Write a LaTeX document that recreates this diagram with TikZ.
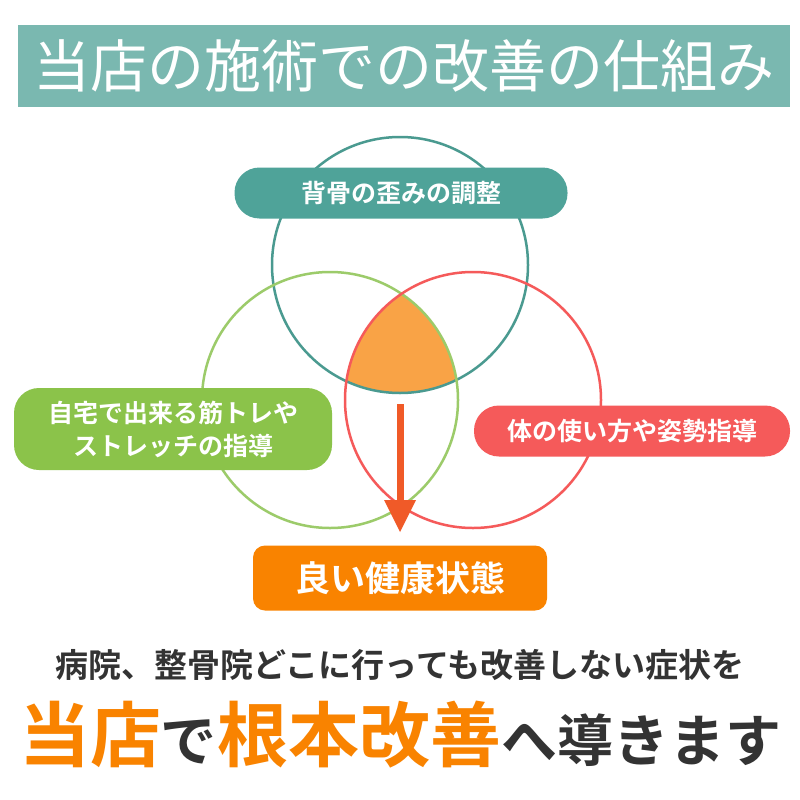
\documentclass[tikz,border=0pt]{standalone}
\usepackage{fontspec}
\setmainfont{Noto Sans CJK JP}[BoldFont={* Bold}]
\definecolor{tealbg}{HTML}{7AB8B0}
\definecolor{tealc}{HTML}{4A9A90}
\definecolor{tealbox}{HTML}{4FA399}
\definecolor{greenc}{HTML}{9CCB6A}
\definecolor{greenbox}{HTML}{8BC34A}
\definecolor{redc}{HTML}{F55A5A}
\definecolor{midfill}{HTML}{F9A346}
\definecolor{arrowc}{HTML}{F05A28}
\definecolor{orangebox}{HTML}{F98300}
\definecolor{darktext}{HTML}{333333}
\tikzset{lbl/.style={rounded corners=25pt,text=white,font=\bfseries\fontsize{25}{33}\selectfont,align=center,inner sep=0pt}}
\begin{document}
\begin{tikzpicture}[x=1pt,y=-1pt]
\useasboundingbox (0,0) rectangle (800,800);
\fill[white] (0,0) rectangle (800,800);
\node[fill=tealbg,minimum width=772pt,minimum height=82pt,inner sep=0pt,text=white,font=\fontsize{57}{62}\selectfont] (title) at (404,66) {当店の施術での改善の仕組み};
\begin{scope}
\clip (400,265) circle (128);
\clip (330,400) circle (128);
\fill[midfill] (473,400) circle (128);
\end{scope}
\draw[tealc,line width=2.5pt] (400,265) circle (128);
\draw[greenc,line width=2.5pt] (330,400) circle (128);
\draw[redc,line width=2.5pt] (473,400) circle (128);
\node[lbl,fill=tealbox,minimum width=333pt,minimum height=51pt] (top) at (401,193) {背骨の歪みの調整};
\node[lbl,fill=greenbox,minimum width=318pt,minimum height=82pt] (left) at (173,429) {自宅で出来る筋トレや\\ストレッチの指導};
\node[lbl,fill=redc,minimum width=316pt,minimum height=51pt] (right) at (632,431) {体の使い方や姿勢指導};
\node[lbl,fill=orangebox,rounded corners=12pt,minimum width=294pt,minimum height=65pt,font=\bfseries\fontsize{35}{40}\selectfont] (good) at (400,578) {良い健康状態};
\coordinate (as) at (400,404);
\draw[arrowc,line width=7pt] (as) -- (400,505);
\fill[arrowc] (384,500) -- (416,500) -- (400,532) -- cycle;
\node[text=darktext,font=\bfseries\fontsize{33}{38}\selectfont] (sub) at (400,665) {病院、整骨院どこに行っても改善しない症状を};
\node[font=\bfseries\fontsize{71}{76}\selectfont,inner sep=0pt] (main) at (400,735) {\textcolor{orangebox}{当店}\textcolor{darktext}{\fontsize{56}{64}\selectfont で}\textcolor{orangebox}{根本改善}\textcolor{darktext}{\fontsize{56}{64}\selectfont へ導きます}};
\end{tikzpicture}
\end{document}
